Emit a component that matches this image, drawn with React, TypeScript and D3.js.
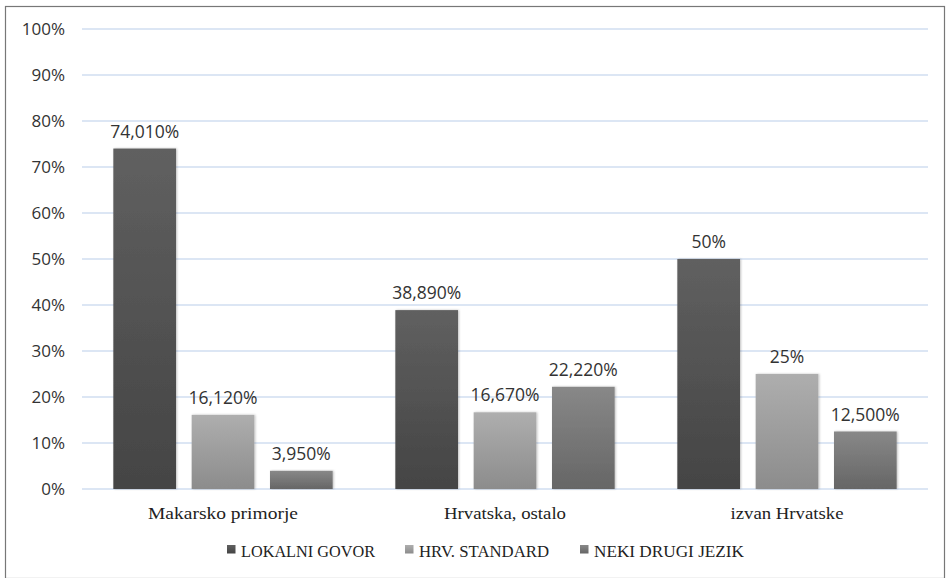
import React from "react";
import * as d3 from "d3";

const categories = ["Makarsko primorje", "Hrvatska, ostalo", "izvan Hrvatske"];
const seriesNames = ["LOKALNI GOVOR", "HRV. STANDARD", "NEKI DRUGI JEZIK"];
const lokalni = [74.01, 38.89, 50];
const standard = [16.12, 16.67, 25];
const drugi = [3.95, 22.22, 12.5];
const valueLabels = [
  ["74,010%", "38,890%", "50%"],
  ["16,120%", "16,670%", "25%"],
  ["3,950%", "22,220%", "12,500%"],
];
const yTicks = [0, 10, 20, 30, 40, 50, 60, 70, 80, 90, 100];

const seriesValues = [lokalni, standard, drugi];
const gradients = [
  ["#606060", "#444444"],
  ["#aeaeae", "#8c8c8c"],
  ["#888888", "#666666"],
];
const categoryWidths = [150, 122, 113];
const legendStarts = [227, 405, 580];
const legendWidths = [134, 130, 150];

export default function App() {
  const W = 947;
  const H = 578;
  const left = 82;
  const right = 928;
  const top = 29;
  const bottom = 489;

  const x = d3.scaleBand<string>().domain(categories).range([left, right]).paddingInner(0).paddingOuter(0);
  const y = d3.scaleLinear().domain([0, 100]).range([bottom, top]);
  const band = x.bandwidth();
  const barW = band / (1 + 3 + 0.25 * 2);
  const gapBetween = barW * 0.25;

  const numFont = "'Open Sans', sans-serif";
  const serif = "'Liberation Serif', serif";

  return (
    <svg width={W} height={H} style={{ position: "absolute", left: 0, top: 0 }}>
      <defs>
        {gradients.map((g, i) => (
          <linearGradient key={i} id={`g${i}`} x1="0" y1="0" x2="0" y2="1">
            <stop offset="0" stopColor={g[0]} />
            <stop offset="1" stopColor={g[1]} />
          </linearGradient>
        ))}
        <filter id="sh" x="-20%" y="-5%" width="140%" height="110%">
          <feDropShadow dx="1" dy="0" stdDeviation="1.2" floodColor="#000" floodOpacity="0.25" />
        </filter>
      </defs>
      <rect x={0} y={0} width={W} height={H} fill="#fff" />
      <rect x={5.5} y={6.5} width={W - 8} height={H - 6} fill="none" stroke="#777" strokeWidth={1.2} />
      {yTicks.map((t) => (
        <g key={t}>
          <line x1={left} x2={right} y1={y(t)} y2={y(t)} stroke="#d0def0" strokeWidth={1.5} />
          <text x={65} y={y(t)} dy="0.36em" textAnchor="end" fontFamily={numFont} fontSize={17} fill="#333">
            {t}%
          </text>
        </g>
      ))}
      {categories.map((c, ci) => {
        const x0 = (x(c) as number) + barW / 2;
        return (
          <g key={c}>
            {seriesValues.map((vals, si) => {
              const bx = x0 + si * (barW + gapBetween);
              const v = vals[ci];
              return (
                <g key={si}>
                  <rect
                    x={bx}
                    y={y(v)}
                    width={barW}
                    height={bottom - y(v)}
                    fill={`url(#g${si})`}
                    filter="url(#sh)"
                  />
                  <text
                    x={bx + barW / 2}
                    y={y(v) - 11}
                    textAnchor="middle"
                    fontFamily={numFont}
                    fontSize={17.5}
                    fill="#333"
                  >
                    {valueLabels[si][ci]}
                  </text>
                </g>
              );
            })}
            <text
              x={(x(c) as number) + band / 2 - categoryWidths[ci] / 2}
              y={519}
              fontFamily={serif}
              fontSize={17}
              fill="#222"
              textLength={categoryWidths[ci]}
              lengthAdjust="spacingAndGlyphs"
            >
              {c}
            </text>
          </g>
        );
      })}
      {seriesNames.map((n, i) => (
        <g key={n}>
          <rect x={legendStarts[i]} y={545} width={8.5} height={8.5} fill={`url(#g${i})`} />
          <text
            x={legendStarts[i] + 14}
            y={557}
            fontFamily={serif}
            fontSize={17}
            fill="#222"
            textLength={legendWidths[i]}
            lengthAdjust="spacingAndGlyphs"
          >
            {n}
          </text>
        </g>
      ))}
    </svg>
  );
}
